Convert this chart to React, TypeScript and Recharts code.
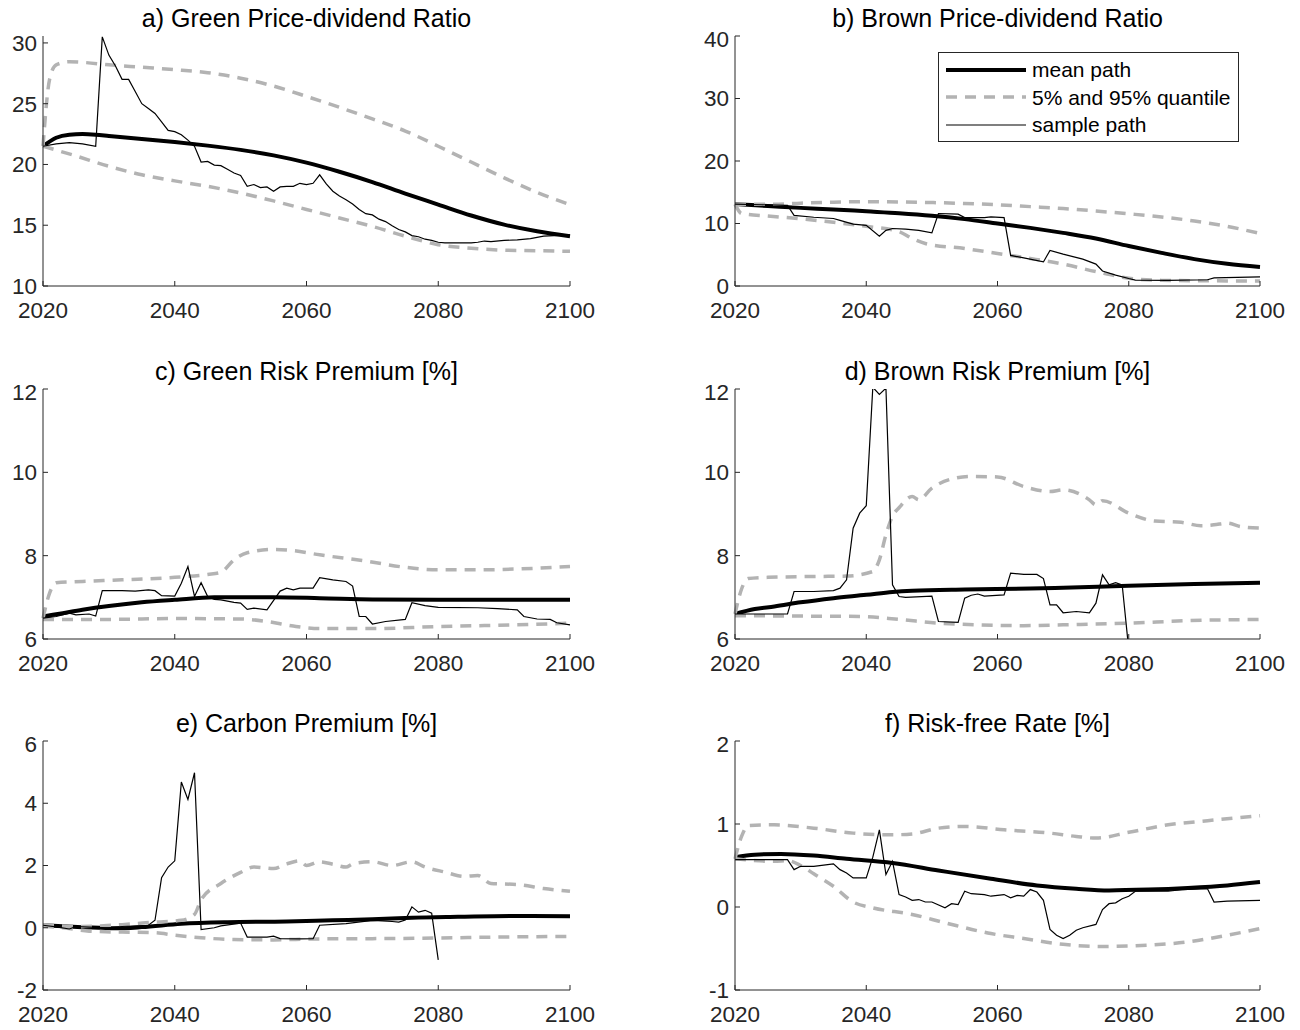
import { LineChart, Line, XAxis, YAxis } from "recharts"

type Pt = [number, number]

const yearTicks = [2020, 2040, 2060, 2080, 2100]

// a) Green price-dividend ratio
const greenPdMean: Pt[] = [
  [2020, 21.5], [2022, 22.2], [2024, 22.45], [2026, 22.5], [2028, 22.45], [2030, 22.35],
  [2035, 22.1], [2040, 21.85], [2045, 21.55], [2050, 21.2], [2055, 20.75], [2060, 20.15],
  [2065, 19.4], [2070, 18.55], [2075, 17.6], [2080, 16.7], [2085, 15.8], [2090, 15.05],
  [2095, 14.5], [2100, 14.1]
]
const greenPdLow: Pt[] = [
  [2020, 21.5], [2025, 20.7], [2030, 19.85], [2035, 19.15], [2040, 18.65], [2045, 18.2],
  [2050, 17.65], [2055, 17.0], [2060, 16.3], [2065, 15.6], [2070, 14.9], [2075, 14.1],
  [2080, 13.4], [2085, 13.1], [2090, 12.95], [2095, 12.9], [2100, 12.85]
]
const greenPdHigh: Pt[] = [
  [2020, 21.5], [2021, 27.0], [2022, 28.2], [2024, 28.45], [2026, 28.4], [2030, 28.2],
  [2035, 28.0], [2040, 27.8], [2045, 27.55], [2050, 27.1], [2055, 26.45], [2060, 25.6],
  [2065, 24.7], [2070, 23.75], [2075, 22.75], [2080, 21.5], [2085, 20.2], [2090, 18.9],
  [2095, 17.7], [2100, 16.7]
]
const greenPdSample: Pt[] = [
  [2020, 21.5], [2022, 21.7], [2024, 21.8], [2026, 21.7], [2028, 21.5], [2029, 30.5],
  [2030, 29.0], [2031, 28.1], [2032, 27.0], [2033, 27.0], [2034, 26.0], [2035, 25.0],
  [2036, 24.6], [2037, 24.2], [2038, 23.5], [2039, 22.8], [2040, 22.7], [2041, 22.45],
  [2042, 22.0], [2043, 21.5], [2044, 20.2], [2045, 20.25], [2046, 19.95], [2047, 19.9],
  [2048, 19.6], [2049, 19.3], [2050, 19.1], [2051, 18.2], [2052, 18.35], [2053, 18.1],
  [2054, 18.15], [2055, 17.8], [2056, 18.15], [2057, 18.2], [2058, 18.2], [2059, 18.45],
  [2060, 18.35], [2061, 18.45], [2062, 19.15], [2063, 18.4], [2064, 17.8], [2065, 17.4],
  [2066, 17.1], [2067, 16.75], [2068, 16.3], [2069, 15.95], [2070, 15.85], [2071, 15.5],
  [2072, 15.3], [2073, 14.95], [2074, 14.65], [2075, 14.45], [2076, 14.15], [2077, 14.05],
  [2078, 13.85], [2079, 13.75], [2080, 13.6], [2081, 13.55], [2085, 13.55], [2086, 13.6],
  [2087, 13.7], [2088, 13.65], [2090, 13.75], [2092, 13.8], [2094, 13.9], [2095, 14.0],
  [2096, 14.1], [2100, 14.2]
]

// b) Brown price-dividend ratio
const brownPdMean: Pt[] = [
  [2020, 13.1], [2025, 12.8], [2030, 12.5], [2035, 12.25], [2040, 11.95], [2045, 11.65],
  [2050, 11.25], [2055, 10.7], [2060, 10.0], [2065, 9.3], [2070, 8.5], [2075, 7.6],
  [2080, 6.4], [2085, 5.3], [2090, 4.3], [2095, 3.55], [2100, 3.05]
]
const brownPdLow: Pt[] = [
  [2020, 13.1], [2021, 11.6], [2025, 11.2], [2030, 10.75], [2035, 10.2], [2040, 9.55],
  [2045, 8.7], [2047, 7.6], [2049, 6.8], [2055, 6.0], [2060, 5.2], [2065, 4.4],
  [2070, 3.5], [2075, 2.3], [2080, 1.25], [2085, 0.9], [2090, 0.85], [2100, 0.8]
]
const brownPdHigh: Pt[] = [
  [2020, 13.1], [2026, 13.1], [2030, 13.25], [2035, 13.4], [2040, 13.5], [2045, 13.45],
  [2050, 13.35], [2055, 13.2], [2060, 13.0], [2065, 12.7], [2070, 12.4], [2075, 12.0],
  [2080, 11.55], [2085, 11.05], [2090, 10.4], [2095, 9.55], [2100, 8.4]
]
const brownPdSample: Pt[] = [
  [2020, 13.1], [2024, 13.0], [2028, 12.9], [2029, 11.3], [2032, 11.0], [2035, 10.8],
  [2036, 10.5], [2038, 9.9], [2040, 9.7], [2042, 7.95], [2043, 8.9], [2044, 9.2],
  [2046, 9.1], [2048, 8.9], [2050, 8.5], [2051, 11.6], [2054, 11.5], [2055, 10.95],
  [2058, 10.95], [2059, 11.05], [2061, 10.95], [2062, 4.9], [2064, 4.5], [2067, 3.85],
  [2068, 5.7], [2070, 5.1], [2073, 4.3], [2075, 3.5], [2076, 2.4], [2078, 1.75],
  [2080, 1.2], [2081, 0.95], [2086, 0.9], [2092, 1.0], [2093, 1.3], [2100, 1.45]
]

// c) Green risk premium
const greenRpMean: Pt[] = [
  [2020, 6.54], [2023, 6.62], [2026, 6.7], [2030, 6.79], [2035, 6.88], [2040, 6.94],
  [2046, 7.0], [2055, 7.0], [2062, 6.98], [2070, 6.95], [2080, 6.94], [2100, 6.94]
]
const greenRpLow: Pt[] = [
  [2020, 6.47], [2030, 6.47], [2040, 6.49], [2050, 6.48], [2054, 6.42], [2058, 6.31],
  [2062, 6.25], [2070, 6.25], [2080, 6.3], [2092, 6.34], [2100, 6.38]
]
const greenRpHigh: Pt[] = [
  [2020, 6.5], [2021, 7.1], [2022, 7.35], [2026, 7.38], [2032, 7.42], [2040, 7.48],
  [2045, 7.55], [2047, 7.6], [2049, 7.9], [2051, 8.07], [2055, 8.15], [2058, 8.12],
  [2062, 8.02], [2069, 7.87], [2075, 7.72], [2080, 7.66], [2086, 7.66], [2092, 7.68],
  [2100, 7.74]
]
const greenRpSample: Pt[] = [
  [2020, 6.5], [2022, 6.54], [2024, 6.62], [2025, 6.58], [2027, 6.6], [2028, 6.55],
  [2029, 7.16], [2032, 7.16], [2034, 7.15], [2036, 7.18], [2037, 7.16], [2038, 7.04],
  [2040, 7.03], [2041, 7.34], [2042, 7.74], [2043, 7.02], [2044, 7.35], [2045, 7.02],
  [2046, 6.95], [2047, 6.94], [2049, 6.88], [2050, 6.86], [2051, 6.71], [2052, 6.74],
  [2054, 6.7], [2056, 7.15], [2057, 7.22], [2058, 7.18], [2059, 7.22], [2061, 7.22],
  [2062, 7.47], [2064, 7.42], [2066, 7.38], [2067, 7.27], [2068, 6.54], [2069, 6.54],
  [2070, 6.36], [2072, 6.42], [2075, 6.47], [2076, 6.87], [2078, 6.8], [2080, 6.76],
  [2086, 6.75], [2089, 6.73], [2092, 6.7], [2093, 6.54], [2095, 6.48], [2097, 6.47],
  [2098, 6.39], [2100, 6.34]
]

// d) Brown risk premium
const brownRpMean: Pt[] = [
  [2020, 6.6], [2023, 6.72], [2026, 6.78], [2030, 6.88], [2035, 6.98], [2040, 7.06],
  [2044, 7.13], [2047, 7.16], [2055, 7.19], [2065, 7.21], [2070, 7.23], [2080, 7.28],
  [2090, 7.32], [2100, 7.35]
]
const brownRpLow: Pt[] = [
  [2020, 6.56], [2030, 6.55], [2039, 6.54], [2045, 6.47], [2051, 6.38], [2057, 6.34],
  [2064, 6.32], [2070, 6.34], [2080, 6.38], [2089, 6.44], [2100, 6.47]
]
const brownRpHigh: Pt[] = [
  [2020, 6.6], [2021, 7.2], [2022, 7.45], [2025, 7.48], [2032, 7.5], [2037, 7.51],
  [2041, 7.62], [2042, 7.9], [2043, 8.5], [2044, 8.95], [2045, 9.15], [2047, 9.42],
  [2048, 9.34], [2050, 9.62], [2053, 9.84], [2056, 9.9], [2060, 9.89], [2064, 9.66],
  [2068, 9.54], [2070, 9.58], [2074, 9.34], [2075, 9.22], [2076, 9.32], [2080, 9.02],
  [2084, 8.83], [2088, 8.8], [2091, 8.72], [2093, 8.74], [2095, 8.78], [2097, 8.7],
  [2100, 8.66]
]
const brownRpSample: Pt[] = [
  [2020, 6.6], [2028, 6.6], [2029, 7.14], [2032, 7.14], [2035, 7.16], [2036, 7.22],
  [2037, 7.42], [2038, 8.66], [2039, 9.02], [2040, 9.2], [2041, 12.04], [2042, 11.87],
  [2043, 12.02], [2044, 7.3], [2045, 7.02], [2046, 7.0], [2050, 7.03], [2051, 6.42],
  [2054, 6.4], [2055, 6.98], [2056, 7.05], [2057, 7.08], [2058, 7.03], [2061, 7.06],
  [2062, 7.58], [2064, 7.55], [2066, 7.55], [2067, 7.45], [2068, 6.82], [2069, 6.82],
  [2070, 6.63], [2072, 6.66], [2074, 6.63], [2075, 6.86], [2076, 7.54], [2077, 7.3],
  [2078, 7.35], [2079, 7.3], [2080, 5.75]
]

// e) Carbon premium
const carbonMean: Pt[] = [
  [2020, 0.08], [2026, 0.02], [2031, -0.02], [2035, 0.02], [2041, 0.13], [2048, 0.18],
  [2057, 0.2], [2064, 0.24], [2070, 0.27], [2076, 0.32], [2083, 0.35], [2092, 0.38],
  [2100, 0.37]
]
const carbonLow: Pt[] = [
  [2020, 0.05], [2023, 0.0], [2027, -0.11], [2032, -0.14], [2037, -0.16], [2040, -0.24],
  [2044, -0.32], [2049, -0.38], [2055, -0.39], [2061, -0.36], [2070, -0.35], [2080, -0.33],
  [2089, -0.3], [2100, -0.28]
]
const carbonHigh: Pt[] = [
  [2020, 0.1], [2026, 0.04], [2032, 0.1], [2037, 0.18], [2041, 0.24], [2043, 0.43],
  [2044, 0.9], [2047, 1.42], [2050, 1.78], [2052, 1.95], [2055, 1.9], [2057, 2.05],
  [2059, 2.15], [2060, 2.0], [2062, 2.12], [2064, 2.04], [2066, 1.95], [2067, 2.05],
  [2070, 2.12], [2073, 2.0], [2076, 2.12], [2078, 1.95], [2081, 1.79], [2084, 1.65],
  [2086, 1.68], [2088, 1.42], [2092, 1.39], [2096, 1.26], [2100, 1.17]
]
const carbonSample: Pt[] = [
  [2020, 0.08], [2022, 0.03], [2024, -0.04], [2025, 0.04], [2027, 0.02], [2030, 0.0],
  [2032, 0.04], [2036, 0.08], [2037, 0.24], [2038, 1.61], [2039, 1.95], [2040, 2.15],
  [2041, 4.68], [2042, 4.12], [2043, 4.98], [2044, -0.06], [2046, 0.0], [2047, 0.06],
  [2050, 0.15], [2051, -0.3], [2054, -0.3], [2055, -0.27], [2056, -0.35], [2059, -0.36],
  [2061, -0.35], [2062, 0.08], [2066, 0.13], [2070, 0.24], [2073, 0.2], [2074, 0.18],
  [2075, 0.25], [2076, 0.67], [2077, 0.5], [2078, 0.56], [2079, 0.47], [2080, -1.03]
]

// f) Risk-free rate
const rfMean: Pt[] = [
  [2020, 0.6], [2023, 0.63], [2027, 0.64], [2032, 0.62], [2037, 0.58], [2044, 0.53],
  [2051, 0.44], [2059, 0.34], [2066, 0.26], [2072, 0.22], [2077, 0.2], [2083, 0.21],
  [2089, 0.23], [2095, 0.26], [2100, 0.3]
]
const rfLow: Pt[] = [
  [2020, 0.58], [2026, 0.55], [2028, 0.56], [2030, 0.5], [2032, 0.4], [2035, 0.25],
  [2038, 0.06], [2041, -0.01], [2047, -0.09], [2052, -0.19], [2059, -0.32], [2064, -0.38],
  [2070, -0.45], [2076, -0.475], [2083, -0.46], [2089, -0.42], [2095, -0.34], [2100, -0.26]
]
const rfHigh: Pt[] = [
  [2020, 0.58], [2021, 0.85], [2022, 0.98], [2026, 0.99], [2032, 0.95], [2038, 0.89],
  [2044, 0.87], [2047, 0.88], [2051, 0.95], [2055, 0.97], [2061, 0.93], [2068, 0.89],
  [2072, 0.85], [2075, 0.83], [2080, 0.9], [2086, 0.99], [2092, 1.04], [2100, 1.1]
]
const rfSample: Pt[] = [
  [2020, 0.57], [2028, 0.57], [2029, 0.45], [2030, 0.49], [2032, 0.49], [2035, 0.52],
  [2036, 0.45], [2037, 0.41], [2038, 0.35], [2040, 0.35], [2041, 0.6], [2042, 0.93],
  [2043, 0.39], [2044, 0.55], [2045, 0.15], [2046, 0.12], [2047, 0.08], [2048, 0.09],
  [2049, 0.06], [2050, 0.06], [2052, -0.01], [2053, 0.04], [2054, 0.03], [2055, 0.19],
  [2056, 0.16], [2058, 0.15], [2059, 0.13], [2060, 0.14], [2061, 0.15], [2062, 0.11],
  [2063, 0.14], [2064, 0.13], [2065, 0.21], [2066, 0.18], [2067, 0.08], [2068, -0.27],
  [2069, -0.34], [2070, -0.38], [2071, -0.34], [2072, -0.28], [2073, -0.25], [2075, -0.21],
  [2076, -0.03], [2077, 0.04], [2078, 0.05], [2079, 0.1], [2080, 0.13], [2081, 0.19],
  [2086, 0.19], [2088, 0.21], [2092, 0.22], [2093, 0.06], [2095, 0.07], [2100, 0.08]
]

const axisColor = "#262626"
const quantileColor = "#b3b3b3"
const fontFamily = '"Liberation Sans", Arial, Helvetica, sans-serif'
const tickFont = 22.5

const toRows = (pts: Pt[]) => pts.map(([x, v]) => ({ x, v }))

interface PanelProps {
  title: string
  left: number
  top: number
  width: number
  height: number
  yDomain: [number, number]
  yTicks: number[]
  mean: Pt[]
  low: Pt[]
  high: Pt[]
  sample: Pt[]
}

function Panel(p: PanelProps) {
  const padL = 70
  const padT = 10
  const padR = 40
  const padB = 50
  const tickStyle = { fill: axisColor, fontSize: tickFont, fontFamily }

  return (
    <>
      <div
        style={{
          position: "absolute",
          left: p.left,
          top: p.top - 33,
          width: p.width,
          textAlign: "center",
          fontSize: 25,
          lineHeight: "30px",
          fontFamily,
          color: "#000",
          whiteSpace: "nowrap"
        }}
      >
        {p.title}
      </div>

      <div style={{ position: "absolute", left: p.left - padL, top: p.top - padT }}>
        <LineChart
          width={p.width + padL + padR}
          height={p.height + padT + padB}
          margin={{ top: padT, right: padR, bottom: 0, left: 0 }}
        >
          <XAxis
            dataKey="x"
            type="number"
            domain={[2020, 2100]}
            ticks={yearTicks}
            height={padB}
            tickSize={-5}
            tickMargin={21}
            tick={tickStyle}
            axisLine={{ stroke: axisColor }}
            tickLine={{ stroke: axisColor }}
          />
          <XAxis
            xAxisId="top"
            orientation="top"
            dataKey="x"
            type="number"
            domain={[2020, 2100]}
            ticks={yearTicks}
            height={0}
            tickSize={-5}
            tick={false}
            axisLine={{ stroke: axisColor }}
            tickLine={{ stroke: axisColor }}
          />
          <YAxis
            type="number"
            domain={p.yDomain}
            ticks={p.yTicks}
            allowDataOverflow
            width={padL}
            tickSize={-5}
            tickMargin={11}
            tick={tickStyle}
            axisLine={{ stroke: axisColor }}
            tickLine={{ stroke: axisColor }}
          />
          <YAxis
            yAxisId="right"
            orientation="right"
            type="number"
            domain={p.yDomain}
            ticks={p.yTicks}
            allowDataOverflow
            width={0}
            tickSize={-5}
            tick={false}
            axisLine={{ stroke: axisColor }}
            tickLine={{ stroke: axisColor }}
          />

          <Line
            data={toRows(p.mean)}
            dataKey="v"
            type="monotone"
            stroke="#000"
            strokeWidth={4}
            dot={false}
            activeDot={false}
            isAnimationActive={false}
          />
          <Line
            data={toRows(p.low)}
            dataKey="v"
            type="monotone"
            stroke={quantileColor}
            strokeWidth={3.5}
            strokeDasharray="11 8"
            dot={false}
            activeDot={false}
            isAnimationActive={false}
          />
          <Line
            data={toRows(p.high)}
            dataKey="v"
            type="monotone"
            stroke={quantileColor}
            strokeWidth={3.5}
            strokeDasharray="11 8"
            dot={false}
            activeDot={false}
            isAnimationActive={false}
          />
          <Line
            data={toRows(p.sample)}
            dataKey="v"
            type="linear"
            stroke="#000"
            strokeWidth={1.2}
            dot={false}
            activeDot={false}
            isAnimationActive={false}
          />
        </LineChart>
      </div>
    </>
  )
}

function LegendBox() {
  const rows = [
    { label: "mean path", stroke: "#000", width: 4, dash: undefined as string | undefined },
    { label: "5% and 95% quantile", stroke: quantileColor, width: 3.5, dash: "11 8" },
    { label: "sample path", stroke: "#000", width: 1.2, dash: undefined }
  ]
  return (
    <div
      style={{
        position: "absolute",
        left: 938,
        top: 52,
        width: 301,
        height: 90,
        boxSizing: "border-box",
        border: `1px solid ${axisColor}`,
        background: "#fff",
        fontFamily
      }}
    >
      {rows.map((r, i) => (
        <div
          key={r.label}
          style={{
            position: "absolute",
            left: 7,
            top: 3 + i * 27.5,
            height: 27,
            display: "flex",
            alignItems: "center",
            whiteSpace: "nowrap"
          }}
        >
          <svg width={80} height={10} style={{ display: "block" }}>
            <line x1={0} x2={80} y1={5} y2={5} stroke={r.stroke} strokeWidth={r.width} strokeDasharray={r.dash} />
          </svg>
          <span style={{ marginLeft: 6, fontSize: 21, color: "#000", lineHeight: "27px" }}>{r.label}</span>
        </div>
      ))}
    </div>
  )
}

export default function App() {
  const lx = 43
  const rx = 735
  const lw = 527
  const rw = 525

  return (
    <div style={{ position: "absolute", left: 0, top: 0, width: 1300, height: 1030, background: "#fff" }}>
      <Panel title="a) Green Price-dividend Ratio" left={lx} top={36} width={lw} height={250}
        yDomain={[10, 30.57]} yTicks={[10, 15, 20, 25, 30]}
        mean={greenPdMean} low={greenPdLow} high={greenPdHigh} sample={greenPdSample} />
      <Panel title="b) Brown Price-dividend Ratio" left={rx} top={36} width={rw} height={250}
        yDomain={[0, 40]} yTicks={[0, 10, 20, 30, 40]}
        mean={brownPdMean} low={brownPdLow} high={brownPdHigh} sample={brownPdSample} />
      <Panel title="c) Green Risk Premium [%]" left={lx} top={389} width={lw} height={250}
        yDomain={[6, 12]} yTicks={[6, 8, 10, 12]}
        mean={greenRpMean} low={greenRpLow} high={greenRpHigh} sample={greenRpSample} />
      <Panel title="d) Brown Risk Premium [%]" left={rx} top={389} width={rw} height={250}
        yDomain={[6, 12]} yTicks={[6, 8, 10, 12]}
        mean={brownRpMean} low={brownRpLow} high={brownRpHigh} sample={brownRpSample} />
      <Panel title="e) Carbon Premium [%]" left={lx} top={741} width={lw} height={249}
        yDomain={[-2, 6]} yTicks={[-2, 0, 2, 4, 6]}
        mean={carbonMean} low={carbonLow} high={carbonHigh} sample={carbonSample} />
      <Panel title="f) Risk-free Rate [%]" left={rx} top={741} width={rw} height={249}
        yDomain={[-1, 2]} yTicks={[-1, 0, 1, 2]}
        mean={rfMean} low={rfLow} high={rfHigh} sample={rfSample} />
      <LegendBox />
    </div>
  )
}
